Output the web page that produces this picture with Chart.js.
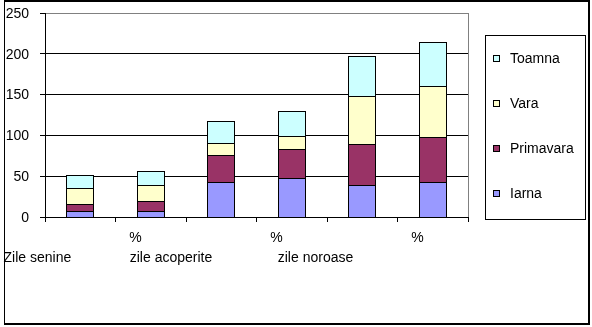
<!DOCTYPE html>
<html>
<head>
<meta charset="utf-8">
<script src="https://cdn.jsdelivr.net/npm/chart.js@4.4.1/dist/chart.umd.min.js"></script>
<style>
    html, body { margin: 0; padding: 0; background: #fff; }
    #wrap { position: relative; width: 592px; height: 327px; }
    #frame {
        position: absolute; left: 4px; top: 0;
        width: 583px; height: 321px;
        border-style: solid; border-color: #000;
        border-width: 2px 2px 2px 1px;
    }
    #chart { position: absolute; left: 0; top: 0; }
</style>
</head>
<body>
<div id="wrap">
    <div id="frame"></div>
    <canvas id="chart" width="592" height="327"></canvas>
</div>
<script>
// ====================================
// DATOS
// ====================================
const categorii = ['Zile senine', '%', 'zile acoperite', '%', 'zile noroase', '%'];
const iarna     = [7, 7, 43, 48, 39, 43];
const primavara = [9, 12, 33, 35, 50, 55];
const vara      = [20, 20, 15, 16, 59, 63];
const toamna    = [15, 17, 27, 31, 49, 54];
const yTicks    = [0, 50, 100, 150, 200, 250];

const FONT = { family: "'Liberation Sans', Arial, sans-serif", size: 14 };

// Ajustar barras a pixeles enteros para que los bordes salgan nitidos
const barrasNitidas = {
    id: 'barrasNitidas',
    beforeDatasetsDraw(chart) {
        chart.data.datasets.forEach((ds, i) => {
            chart.getDatasetMeta(i).data.forEach(bar => {
                const w = Math.round(bar.width);
                bar.width = w;
                bar.x = Math.round(bar.x - w / 2) + w / 2;
                bar.y = Math.round(bar.y);
                bar.base = Math.round(bar.base);
            });
        });
    }
};

// Marco gris del area de trazado + leyenda con recuadro
const marcoYLeyenda = {
    id: 'marcoYLeyenda',
    afterDraw(chart) {
        const ctx = chart.ctx;
        const a = chart.chartArea;
        ctx.save();

        // borde derecho del area (gris)
        ctx.strokeStyle = '#808080';
        ctx.lineWidth = 1;
        ctx.beginPath();
        ctx.moveTo(Math.round(a.right) + 0.5, Math.round(a.top));
        ctx.lineTo(Math.round(a.right) + 0.5, Math.round(a.bottom));
        ctx.stroke();

        // recuadro de la leyenda
        ctx.strokeStyle = '#000';
        ctx.strokeRect(485.5, 35.5, 100, 184);

        // entradas, de arriba hacia abajo en orden inverso
        const items = chart.data.datasets.slice().reverse();
        ctx.font = FONT.size + 'px ' + FONT.family;
        ctx.textBaseline = 'middle';
        ctx.textAlign = 'left';
        items.forEach((ds, i) => {
            const y = 59 + i * 45;
            ctx.fillStyle = ds.backgroundColor;
            ctx.fillRect(493, y - 4, 7, 7);
            ctx.strokeStyle = '#000';
            ctx.strokeRect(493.5, y - 3.5, 6, 6);
            ctx.fillStyle = '#000';
            ctx.fillText(ds.label, 510, y);
        });
        ctx.restore();
    }
};

const ctx = document.getElementById('chart').getContext('2d');

new Chart(ctx, {
    type: 'bar',
    data: {
        labels: categorii,
        datasets: [
            { label: 'Iarna',     data: iarna,     backgroundColor: '#9999FF' },
            { label: 'Primavara', data: primavara, backgroundColor: '#993366' },
            { label: 'Vara',      data: vara,      backgroundColor: '#FFFFCC' },
            { label: 'Toamna',    data: toamna,    backgroundColor: '#CCFFFF' }
        ].map(ds => Object.assign(ds, {
            borderColor: '#000',
            borderWidth: 1,
            borderSkipped: 'start',
            inflateAmount: 0,
            barPercentage: 0.4,
            categoryPercentage: 1.0
        }))
    },
    options: {
        responsive: false,
        animation: false,
        layout: { padding: { top: 13, right: 124, bottom: 0, left: 0 } },
        plugins: {
            legend: { display: false },
            tooltip: { enabled: false }
        },
        scales: {
            x: {
                stacked: true,
                offset: true,
                afterFit: s => { s.height = 110; s.paddingLeft = 0; s.paddingRight = 0; },
                grid: {
                    offset: true,
                    drawOnChartArea: false,
                    tickLength: 5,
                    tickColor: '#000'
                },
                border: { color: '#000' },
                ticks: {
                    color: '#000',
                    font: Object.assign({ lineHeight: '20px' }, FONT),
                    align: 'end',
                    labelOffset: -9,
                    padding: 6,
                    maxRotation: 0,
                    minRotation: 0,
                    autoSkip: false,
                    // etichetele alterneaza pe doua randuri
                    callback: function (value, index) {
                        const text = this.getLabelForValue(value);
                        return index % 2 === 0 ? ['', text] : text;
                    }
                }
            },
            y: {
                stacked: true,
                min: 0,
                max: 250,
                afterFit: s => { s.width = 45; s.paddingTop = 0; s.paddingBottom = 0; },
                afterBuildTicks: s => { s.ticks = yTicks.map(v => ({ value: v })); },
                grid: {
                    color: c => (c.tick && c.tick.value === 250 ? '#808080' : '#000'),
                    tickColor: '#000',
                    tickLength: 5
                },
                border: { color: '#000' },
                ticks: {
                    color: '#000',
                    font: FONT,
                    padding: 11,
                    labelOffset: 1
                }
            }
        }
    },
    plugins: [barrasNitidas, marcoYLeyenda]
});
</script>
</body>
</html>
